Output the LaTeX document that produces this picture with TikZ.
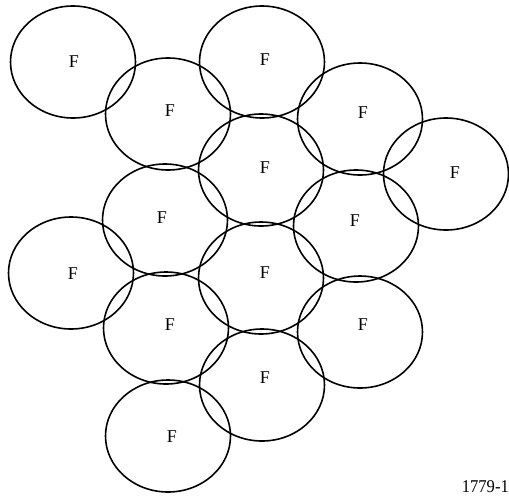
\documentclass[tikz,border=0pt]{standalone}
\usepackage{fontspec}
\setmainfont{Liberation Serif}
\usetikzlibrary{shapes.geometric}
\begin{document}
\begin{tikzpicture}[x=1pt,y=-1pt,
  cell/.style={draw=black, line width=1.6pt, ellipse, inner sep=0pt, minimum width=125pt, minimum height=112pt},
  ftext/.style={font=\fontsize{18}{18}\selectfont, inner sep=0pt}]
\useasboundingbox (0,0) rectangle (509,496);
\node[cell] (e1) at (73,62) {};
\node[cell] (e2) at (168,114) {};
\node[cell] (e3) at (262,62) {};
\node[cell] (e4) at (360,119) {};
\node[cell] (e5) at (446,174) {};
\node[cell] (e6) at (261,170) {};
\node[cell] (e7) at (165,220) {};
\node[cell] (e8) at (356,226) {};
\node[cell] (e9) at (71,273) {};
\node[cell] (e10) at (261,278) {};
\node[cell] (e11) at (166,328) {};
\node[cell] (e12) at (360,332) {};
\node[cell] (e13) at (262,385) {};
\node[cell] (e14) at (168,436) {};
\node[ftext] (f1) at (74,62) {F};
\node[ftext] (f2) at (170,111) {F};
\node[ftext] (f3) at (265,60) {F};
\node[ftext] (f4) at (363,113) {F};
\node[ftext] (f5) at (455,173) {F};
\node[ftext] (f6) at (265,168) {F};
\node[ftext] (f7) at (162,218) {F};
\node[ftext] (f8) at (355,221) {F};
\node[ftext] (f9) at (73,274) {F};
\node[ftext] (f10) at (265,273) {F};
\node[ftext] (f11) at (170,325) {F};
\node[ftext] (f12) at (363,325) {F};
\node[ftext] (f13) at (265,378) {F};
\node[ftext] (f14) at (172,437) {F};
\node[ftext, anchor=east, xscale=0.92] (lbl) at (509,487) {1779-1};
\end{tikzpicture}
\end{document}
